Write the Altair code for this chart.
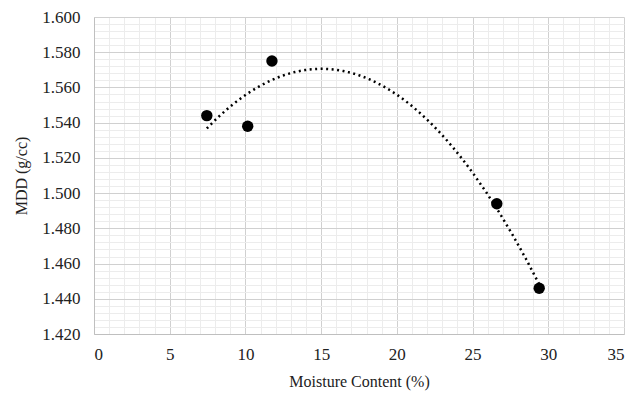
import altair as alt
import pandas as pd

moisture = [7.45, 10.15, 11.75, 26.6, 29.4]
mdd = [1.544, 1.538, 1.575, 1.494, 1.446]

x_major = [0, 5, 10, 15, 20, 25, 30, 35]
x_minor = list(range(0, 36))
y_major = [1.42, 1.44, 1.46, 1.48, 1.50, 1.52, 1.54, 1.56, 1.58, 1.60]
y_minor = [round(1.42 + 0.004 * i, 3) for i in range(46)]

df = pd.DataFrame({"x": moisture, "y": mdd})

FONT = "'Times New Roman', 'Liberation Serif', serif"
xs = alt.Scale(domain=[0, 35], nice=False, zero=False)
ys = alt.Scale(domain=[1.42, 1.60], nice=False, zero=False)

minor = alt.Chart(df).mark_point(opacity=0).encode(
    x=alt.X("x:Q", scale=xs, axis=alt.Axis(orient="top", values=x_minor, grid=True, gridColor="#ececec",
                                           labels=False, ticks=False, domain=False, title=None)),
    y=alt.Y("y:Q", scale=ys, axis=alt.Axis(orient="right", values=y_minor, grid=True, gridColor="#ececec",
                                           labels=False, ticks=False, domain=False, title=None)),
)

major = alt.Chart(df).mark_point(opacity=0).encode(
    x=alt.X("x:Q", scale=xs, axis=alt.Axis(orient="bottom", values=x_major, grid=True, gridColor="#d0d0d0",
                                           ticks=False, domainColor="#bfbfbf", labelPadding=12,
                                           title="Moisture Content (%)", titlePadding=11)),
    y=alt.Y("y:Q", scale=ys, axis=alt.Axis(orient="left", values=y_major, format=".3f", grid=True,
                                           gridColor="#d0d0d0", ticks=False, domainColor="#bfbfbf",
                                           labelPadding=14, title="MDD (g/cc)", titlePadding=12)),
)

trend = alt.Chart(df).transform_regression(
    "x", "y", method="poly", order=2
).mark_line(color="black", strokeWidth=2.5, strokeDash=[2, 3.5]).encode(
    x=alt.X("x:Q", scale=xs, axis=None), y=alt.Y("y:Q", scale=ys, axis=None)
)

pts = alt.Chart(df).mark_circle(color="black", size=130, opacity=1).encode(
    x=alt.X("x:Q", scale=xs, axis=None), y=alt.Y("y:Q", scale=ys, axis=None)
)

chart = alt.layer(minor, major, trend, pts).resolve_axis(x="independent", y="independent").properties(
    width=530, height=317, padding={"left": 5, "top": 0, "right": 5, "bottom": 2}
).configure(font=FONT).configure_axis(
    labelFont=FONT, titleFont=FONT, labelFontSize=17, titleFontSize=16,
    labelColor="#222", titleColor="#222", titleFontWeight="normal"
).configure_view(stroke=None)

chart.save("out.html", embed_options={"renderer": "svg", "actions": False})
